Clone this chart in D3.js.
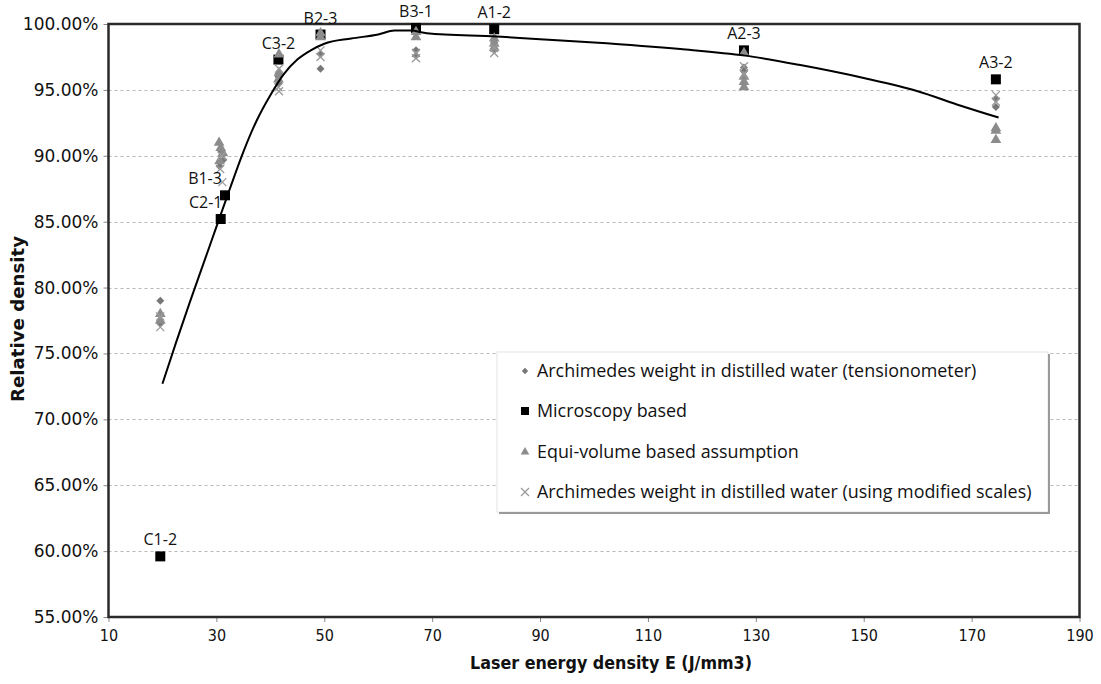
<!DOCTYPE html>
<html><head><meta charset="utf-8">
<script src="https://cdn.jsdelivr.net/npm/d3@7"></script>
<style>body{margin:0;background:#fff}svg{display:block}</style>
</head><body>
<svg id="chart" width="1101" height="684"></svg>
<script>
// ---- data ----
const xTicks = [10,30,50,70,90,110,130,150,170,190];
const yTicks = [0.55,0.60,0.65,0.70,0.75,0.80,0.85,0.90,0.95,1.00];

const archTensio = [[19.6,0.790],[19.6,0.773],[30.9,0.903],[31.3,0.897],[30.6,0.892],[41.5,0.960],[41.6,0.955],
  [49.3,0.977],[49.3,0.966],[67,0.980],[67,0.976],[81.5,0.986],[81.5,0.980],[127.8,0.964],[127.8,0.967],[174.5,0.943],[174.5,0.937]];
const microscopy = [[19.6,0.596],[30.8,0.852],[31.6,0.870],[41.5,0.973],[49.3,0.992],[67,0.997],[81.5,0.996],[127.8,0.980],[174.5,0.958]];
const microLabels = ["C1-2","C2-1","B1-3","C3-2","B2-3","B3-1","A1-2","A2-3","A3-2"];
const equiVolume = [[19.6,0.780],[19.6,0.775],[30.5,0.910],[30.8,0.906],[31.2,0.902],[30.6,0.896],[41.6,0.977],[41.6,0.963],[41.5,0.958],
  [49.3,0.990],[49.3,0.993],[67,0.994],[67,0.990],[81.5,0.989],[81.5,0.985],[81.5,0.982],[127.8,0.978],[127.8,0.960],[127.8,0.956],[127.8,0.952],
  [174.5,0.921],[174.5,0.919],[174.5,0.912]];
const archModified = [[19.6,0.778],[19.6,0.770],[31.0,0.900],[30.7,0.890],[31.1,0.880],[41.6,0.966],[41.5,0.952],[41.6,0.949],
  [49.3,0.980],[49.3,0.975],[67,0.978],[67,0.974],[81.5,0.982],[81.5,0.978],[127.8,0.968],[127.8,0.962],[174.5,0.946],[174.5,0.941]];
const trendX = [20,22.5,25,27.5,30,32.5,35,37.5,40,42.5,45,47.5,50,55,60,63,66,69,82,90,100,116,128,138,150,160,168,175];
const trendY = [0.727,0.758,0.788,0.817,0.846,0.875,0.903,0.927,0.946,0.962,0.973,0.980,0.985,0.989,0.992,0.995,0.995,0.993,0.9905,0.9885,0.986,0.981,0.976,0.969,0.959,0.949,0.938,0.929];
const legendItems = ["Archimedes weight in distilled water (tensionometer)","Microscopy based","Equi-volume based assumption","Archimedes weight in distilled water (using modified scales)"];

// ---- layout ----
const svg = d3.select("#chart");
const L=108.5, R=1079.5, T=24, B=617;
const x = d3.scaleLinear().domain([10,190]).range([L,R]);
const y = d3.scaleLinear().domain([0.55,1.0]).range([B,T]);
const condensed = "DejaVu Sans Condensed, Liberation Sans Narrow, Arial Narrow, sans-serif";
const labelShift = {"C2-1":-15,"B1-3":-20};

// gridlines
svg.append("g").selectAll("line").data(yTicks.filter(v=>v>0.56&&v<0.99)).join("line")
  .attr("x1",L).attr("x2",R).attr("y1",d=>Math.round(y(d))+0.5).attr("y2",d=>Math.round(y(d))+0.5)
  .attr("stroke","#b8b8b8").attr("stroke-width",1).attr("stroke-dasharray","3,3");

// axes
const yAxis = d3.axisLeft(y).tickValues(yTicks).tickFormat(d=>(d*100).toFixed(2)+"%").tickSize(5).tickPadding(5);
const gy = svg.append("g").attr("transform",`translate(${L},0)`).call(yAxis);
gy.select(".domain").remove();
gy.selectAll("line").attr("stroke","#888");
gy.selectAll("text").attr("font-family","DejaVu Sans, Verdana, sans-serif").attr("font-size",17).attr("fill","#111");

const xAxis = d3.axisBottom(x).tickValues(xTicks).tickFormat(d3.format("d")).tickSize(5).tickPadding(8);
const gx = svg.append("g").attr("transform",`translate(0,${B})`).call(xAxis);
gx.select(".domain").remove();
gx.selectAll("line").attr("stroke","#888");
gx.selectAll("text").attr("font-family",condensed).attr("font-size",16).attr("fill","#111");

// plot border
svg.append("rect").attr("x",L).attr("y",T).attr("width",R-L).attr("height",B-T)
  .attr("fill","none").attr("stroke","#2a2a2a").attr("stroke-width",2.5);

// axis titles
svg.append("text").attr("x",611).attr("y",669).attr("text-anchor","middle")
  .attr("font-family",condensed).attr("font-weight","bold").attr("font-size",17)
  .attr("textLength",282).attr("lengthAdjust","spacingAndGlyphs")
  .attr("fill","#111").text("Laser energy density E (J/mm3)");
svg.append("text").attr("transform","translate(24,319) rotate(-90)").attr("text-anchor","middle")
  .attr("font-family",condensed).attr("font-weight","bold").attr("font-size",17)
  .attr("textLength",166).attr("lengthAdjust","spacingAndGlyphs")
  .attr("fill","#111").text("Relative density");

// markers
const diamondPath = "M0,-4L4,0L0,4L-4,0Z";
const squarePath = d3.symbol().type(d3.symbolSquare).size(100)();
const trianglePath = d3.symbol().type(d3.symbolTriangle).size(50)();
const crossPath = "M-4,-4L4,4M-4,4L4,-4";

const plot = svg.append("g");
plot.selectAll(".dia").data(archTensio).join("path").attr("class","dia")
  .attr("transform",d=>`translate(${x(d[0])},${y(d[1])})`).attr("d",diamondPath).attr("fill","#777");
plot.selectAll(".sq").data(microscopy).join("path").attr("class","sq")
  .attr("transform",d=>`translate(${x(d[0])},${y(d[1])})`).attr("d",squarePath).attr("fill","#000");
plot.selectAll(".tri").data(equiVolume).join("path").attr("class","tri")
  .attr("transform",d=>`translate(${x(d[0])},${y(d[1])})`).attr("d",trianglePath).attr("fill","#8c8c8c");
plot.selectAll(".crs").data(archModified).join("path").attr("class","crs")
  .attr("transform",d=>`translate(${x(d[0])},${y(d[1])})`).attr("d",crossPath).attr("fill","none").attr("stroke","#9a9a9a").attr("stroke-width",1.3);

// trend line
const trend = trendX.map((v,i)=>[v,trendY[i]]);
plot.append("path").datum(trend).attr("fill","none").attr("stroke","#000").attr("stroke-width",2)
  .attr("d",d3.line().x(d=>x(d[0])).y(d=>y(d[1])).curve(d3.curveMonotoneX));

// point labels
plot.selectAll(".lbl").data(microscopy).join("text").attr("class","lbl")
  .attr("x",(d,i)=>x(d[0])+(labelShift[microLabels[i]]||0)).attr("y",d=>y(d[1])-11).attr("text-anchor","middle")
  .attr("font-family","Open Sans, sans-serif").attr("font-size",16).attr("fill","#111")
  .text((d,i)=>microLabels[i]);

// legend
const lg = svg.append("g");
lg.append("rect").attr("x",497).attr("y",352).attr("width",551).attr("height",160).attr("fill","#fff").attr("stroke","#e4e4e4");
lg.append("path").attr("d","M1049,354V513H499").attr("fill","none").attr("stroke","#9a9a9a").attr("stroke-width",2);
const rowsY = [371,411,452,492];
const lgMarks = [diamondPath,squarePath,trianglePath,crossPath];
legendItems.forEach((t,i)=>{
  const g = lg.append("g").attr("transform",`translate(525,${rowsY[i]})`);
  const p = g.append("path").attr("d",lgMarks[i]);
  if(i===0) p.attr("fill","#777").attr("transform","scale(0.8)");
  if(i===1) p.attr("fill","#000").attr("transform","scale(0.8)");
  if(i===2) p.attr("fill","#8c8c8c").attr("transform","scale(0.8)");
  if(i===3) p.attr("fill","none").attr("stroke","#9a9a9a").attr("stroke-width",1.3);
  lg.append("text").attr("x",537).attr("y",rowsY[i]).attr("dy","0.35em")
    .attr("font-family","Open Sans, sans-serif").attr("font-size",17.9).attr("fill","#111").text(t);
});
</script>
</body></html>
